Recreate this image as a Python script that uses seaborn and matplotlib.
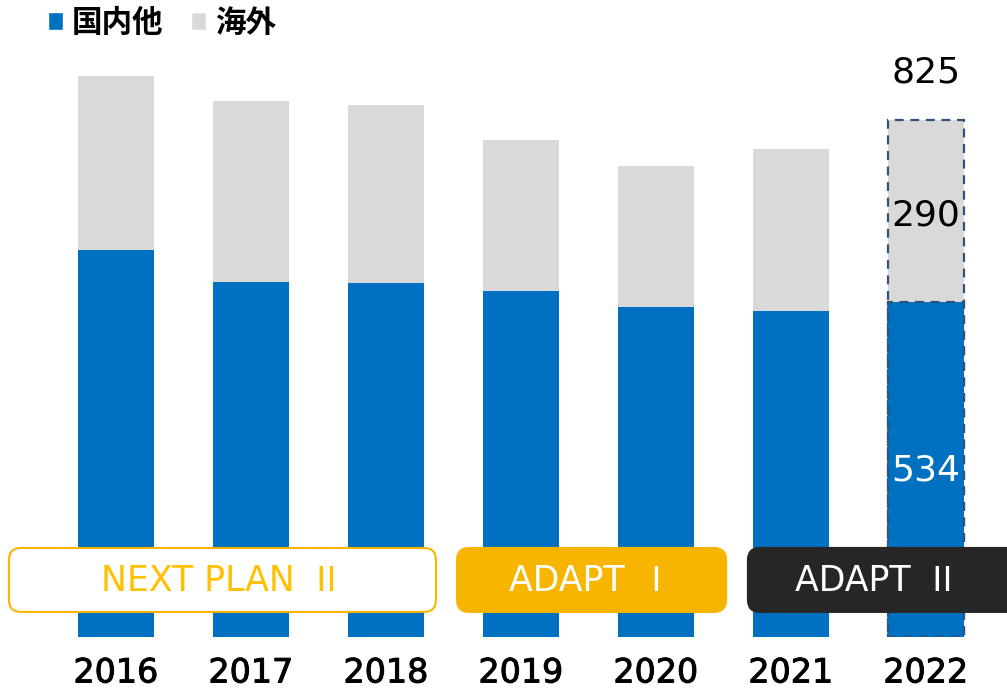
import matplotlib
matplotlib.use("Agg")
import matplotlib.pyplot as plt
from matplotlib.patches import Patch, FancyBboxPatch
import matplotlib.patheffects as pe
import pandas as pd
import seaborn as sns

# data
years = ["2016", "2017", "2018", "2019", "2020", "2021", "2022"]
domestic = [618, 566, 565, 552, 527, 520, 534]
overseas = [277, 289, 284, 241, 225, 259, 290]
total_2022 = 825

# mid-term plan bands (name, numeral, fill, edge, text colour)
plan_names = ["NEXT PLAN", "ADAPT", "ADAPT"]
plan_nums = ["Ⅱ", "Ⅰ", "Ⅱ"]
plan_fill = ["white", "#F8B500", "#262626"]
plan_edge = ["#F8B500", "#F8B500", "#262626"]
plan_text = ["#FFC000", "white", "white"]

df = pd.DataFrame({"year": years, "domestic": domestic, "overseas": overseas})
df["total"] = df["domestic"] + df["overseas"]

sns.set_theme(style="white")
plt.rcParams["font.family"] = ["DejaVu Sans", "Noto Sans CJK JP"]

blue = "#0070C0"
grey = "#D9D9D9"

fig = plt.figure(figsize=(10.07, 6.91), dpi=100)
ax = fig.add_axes([0, 54 / 691, 1, 637 / 691])

sns.barplot(data=df, x="year", y="total", color=grey, width=0.57, saturation=1,
            linewidth=0, ax=ax)
sns.barplot(data=df, x="year", y="domestic", color=blue, width=0.57, saturation=1,
            linewidth=0, ax=ax)

# dashed outline on the plan year
for cont in ax.containers:
    p = cont.patches[-1]
    p.set_edgecolor("#2F5378")
    p.set_linestyle((0, (4, 3)))
    p.set_linewidth(1.6)

ax.set_xlim(-116 / 135, (1007 - 116) / 135)
ax.set_ylim(0, 1016)
sns.despine(ax=ax, left=True, bottom=True)
ax.set_yticks([])
ax.set_xlabel("")
ax.set_ylabel("")
ax.tick_params(axis="x", length=0, pad=14, labelsize=24)
for t in ax.get_xticklabels():
    t.set_color("black")
    t.set_path_effects([pe.withStroke(linewidth=0.7, foreground="black")])

# value labels for 2022
last = len(years) - 1
ax.text(last, total_2022 + 75, f"{total_2022}", ha="center", va="center", fontsize=26, color="black")
ax.text(last, domestic[last] + overseas[last] / 2 - 6, f"{overseas[last]}", ha="center", va="center",
        fontsize=26, color="black")
ax.text(last, 265, f"{domestic[last]}", ha="center", va="center", fontsize=26, color="white")

# plan bands
spans = [(-0.793, 2.37), (2.526, 4.519), (4.681, 6.75)]
aspect = (135 / 0.6267)
fig.canvas.draw()
renderer = fig.canvas.get_renderer()
for name, num, (x0, x1), fc, ec, tc in zip(plan_names, plan_nums, spans, plan_fill, plan_edge, plan_text):
    box = FancyBboxPatch((x0, 40), x1 - x0, 102,
                         boxstyle="round,pad=0,rounding_size=0.09",
                         mutation_aspect=aspect, facecolor=fc, edgecolor=ec,
                         linewidth=1.5, zorder=5, clip_on=False)
    ax.add_patch(box)
    cx = (x0 + min(x1, 6.6)) / 2
    t1 = ax.text(cx, 89, name + " ", ha="left", va="center", fontsize=25, color=tc, zorder=6)
    t2 = ax.annotate(num, xy=(1, 0.5), xycoords=t1, xytext=(2, 0), textcoords="offset points",
                     ha="left", va="center", fontsize=25, color=tc, zorder=6,
                     family=["Noto Sans CJK JP"])
    w = t1.get_window_extent(renderer).width + t2.get_window_extent(renderer).width + 3
    x_disp, y_disp = ax.transData.transform((cx, 89))
    t1.set_position(ax.transData.inverted().transform((x_disp - w / 2, y_disp)))

handles = [Patch(facecolor=blue, label="国内他"), Patch(facecolor=grey, label="海外")]
leg = fig.legend(handles=handles, loc="upper left", bbox_to_anchor=(0.020, 1.03),
                 frameon=False, ncol=2, handlelength=0.5, handleheight=0.5,
                 handletextpad=0.3, columnspacing=0.9,
                 prop={"family": "Noto Sans CJK JP", "size": 22, "weight": "bold"})
for t in leg.get_texts():
    t.set_color("black")

plt.savefig("out.png", dpi=100)
